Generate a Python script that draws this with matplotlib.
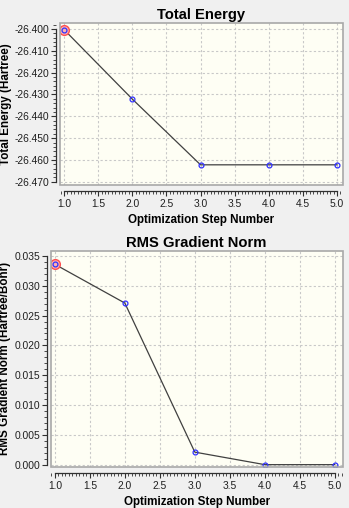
import matplotlib.pyplot as plt
from matplotlib.patches import Rectangle
from matplotlib.ticker import MultipleLocator, FormatStrFormatter

plt.rcParams['font.family'] = ['Liberation Sans', 'DejaVu Sans']

steps = [1, 2, 3, 4, 5]
energy = [-26.4003, -26.4321, -26.4622, -26.4622, -26.4622]
rms_grad = [0.0336, 0.0271, 0.0021, 0.0000, 0.0000]

BG = '#f0f0f0'
FACE = '#fefef4'


def style_axes(ax, xlim, ylim, ybounds, ymajor, yminor):
    ax.set_facecolor(FACE)
    ax.set_xlim(*xlim)
    ax.set_ylim(*ylim)
    for s in ['top', 'right']:
        ax.spines[s].set_visible(False)
    ax.spines['left'].set_position(('outward', 2.9))
    ax.spines['bottom'].set_position(('outward', 4.1))
    ax.spines['left'].set_bounds(*ybounds)
    ax.spines['bottom'].set_bounds(1.0, 5.0)
    for s in ['left', 'bottom']:
        ax.spines[s].set_color('#303030')
        ax.spines[s].set_linewidth(0.9)
    ax.xaxis.set_major_locator(MultipleLocator(0.5))
    ax.xaxis.set_minor_locator(MultipleLocator(0.05))
    ax.xaxis.set_major_formatter(FormatStrFormatter('%.1f'))
    ax.yaxis.set_major_locator(MultipleLocator(ymajor))
    ax.yaxis.set_minor_locator(MultipleLocator(yminor))
    ax.yaxis.set_major_formatter(FormatStrFormatter('%.3f'))
    ax.tick_params(axis='both', which='major', length=3.6, width=0.8, labelsize=7.4,
                   pad=1.2, color='#303030', labelcolor='#202020')
    ax.tick_params(axis='x', which='major', pad=2.8)
    ax.tick_params(axis='both', which='minor', length=2.2, width=0.6, color='#303030')
    ax.grid(True, which='major', linestyle=(0, (2, 2)), color='#c8c8c8', linewidth=0.8)
    ax.add_patch(Rectangle((0, 0), 1, 1, transform=ax.transAxes, fill=False,
                           edgecolor='#a8a8a8', linewidth=1.2, zorder=5, clip_on=False))
    ax.set_xlabel('Optimization Step Number', fontsize=8.4, fontweight='bold', labelpad=3)


def draw_series(ax, y):
    ax.plot(steps, y, color='#404040', linewidth=0.9, zorder=3)
    ax.plot(steps[0], y[0], 'o', markersize=7, markerfacecolor='#ffb0b0',
            markeredgecolor='#ff5050', markeredgewidth=1, zorder=4)
    ax.plot(steps, y, 'o', markersize=3.5, markerfacecolor='none',
            markeredgecolor='#3030ff', markeredgewidth=0.9, zorder=4)


fig = plt.figure(figsize=(3.49, 5.08), dpi=100, facecolor=BG)

ax1 = fig.add_axes([0.172, 0.636, 0.811, 0.319])
style_axes(ax1, (0.941, 5.088), (-26.4714, -26.3972), (-26.470, -26.400), 0.01, 0.002)
draw_series(ax1, energy)
ax1.set_title('Total Energy', fontsize=10.6, fontweight='bold', pad=3)
ax1.set_ylabel('Total Energy (Hartree)', fontsize=8.4, fontweight='bold', labelpad=2)

ax2 = fig.add_axes([0.145, 0.081, 0.837, 0.425])
style_axes(ax2, (0.939, 5.114), (-0.00037, 0.03584), (0.0, 0.035), 0.005, 0.001)
draw_series(ax2, rms_grad)
ax2.set_title('RMS Gradient Norm', fontsize=10.6, fontweight='bold', pad=3)
ax2.set_ylabel('RMS Gradient Norm (Hartree/Bohr)', fontsize=8.4, fontweight='bold', labelpad=2)

plt.savefig('out.png', dpi=100, facecolor=BG)
